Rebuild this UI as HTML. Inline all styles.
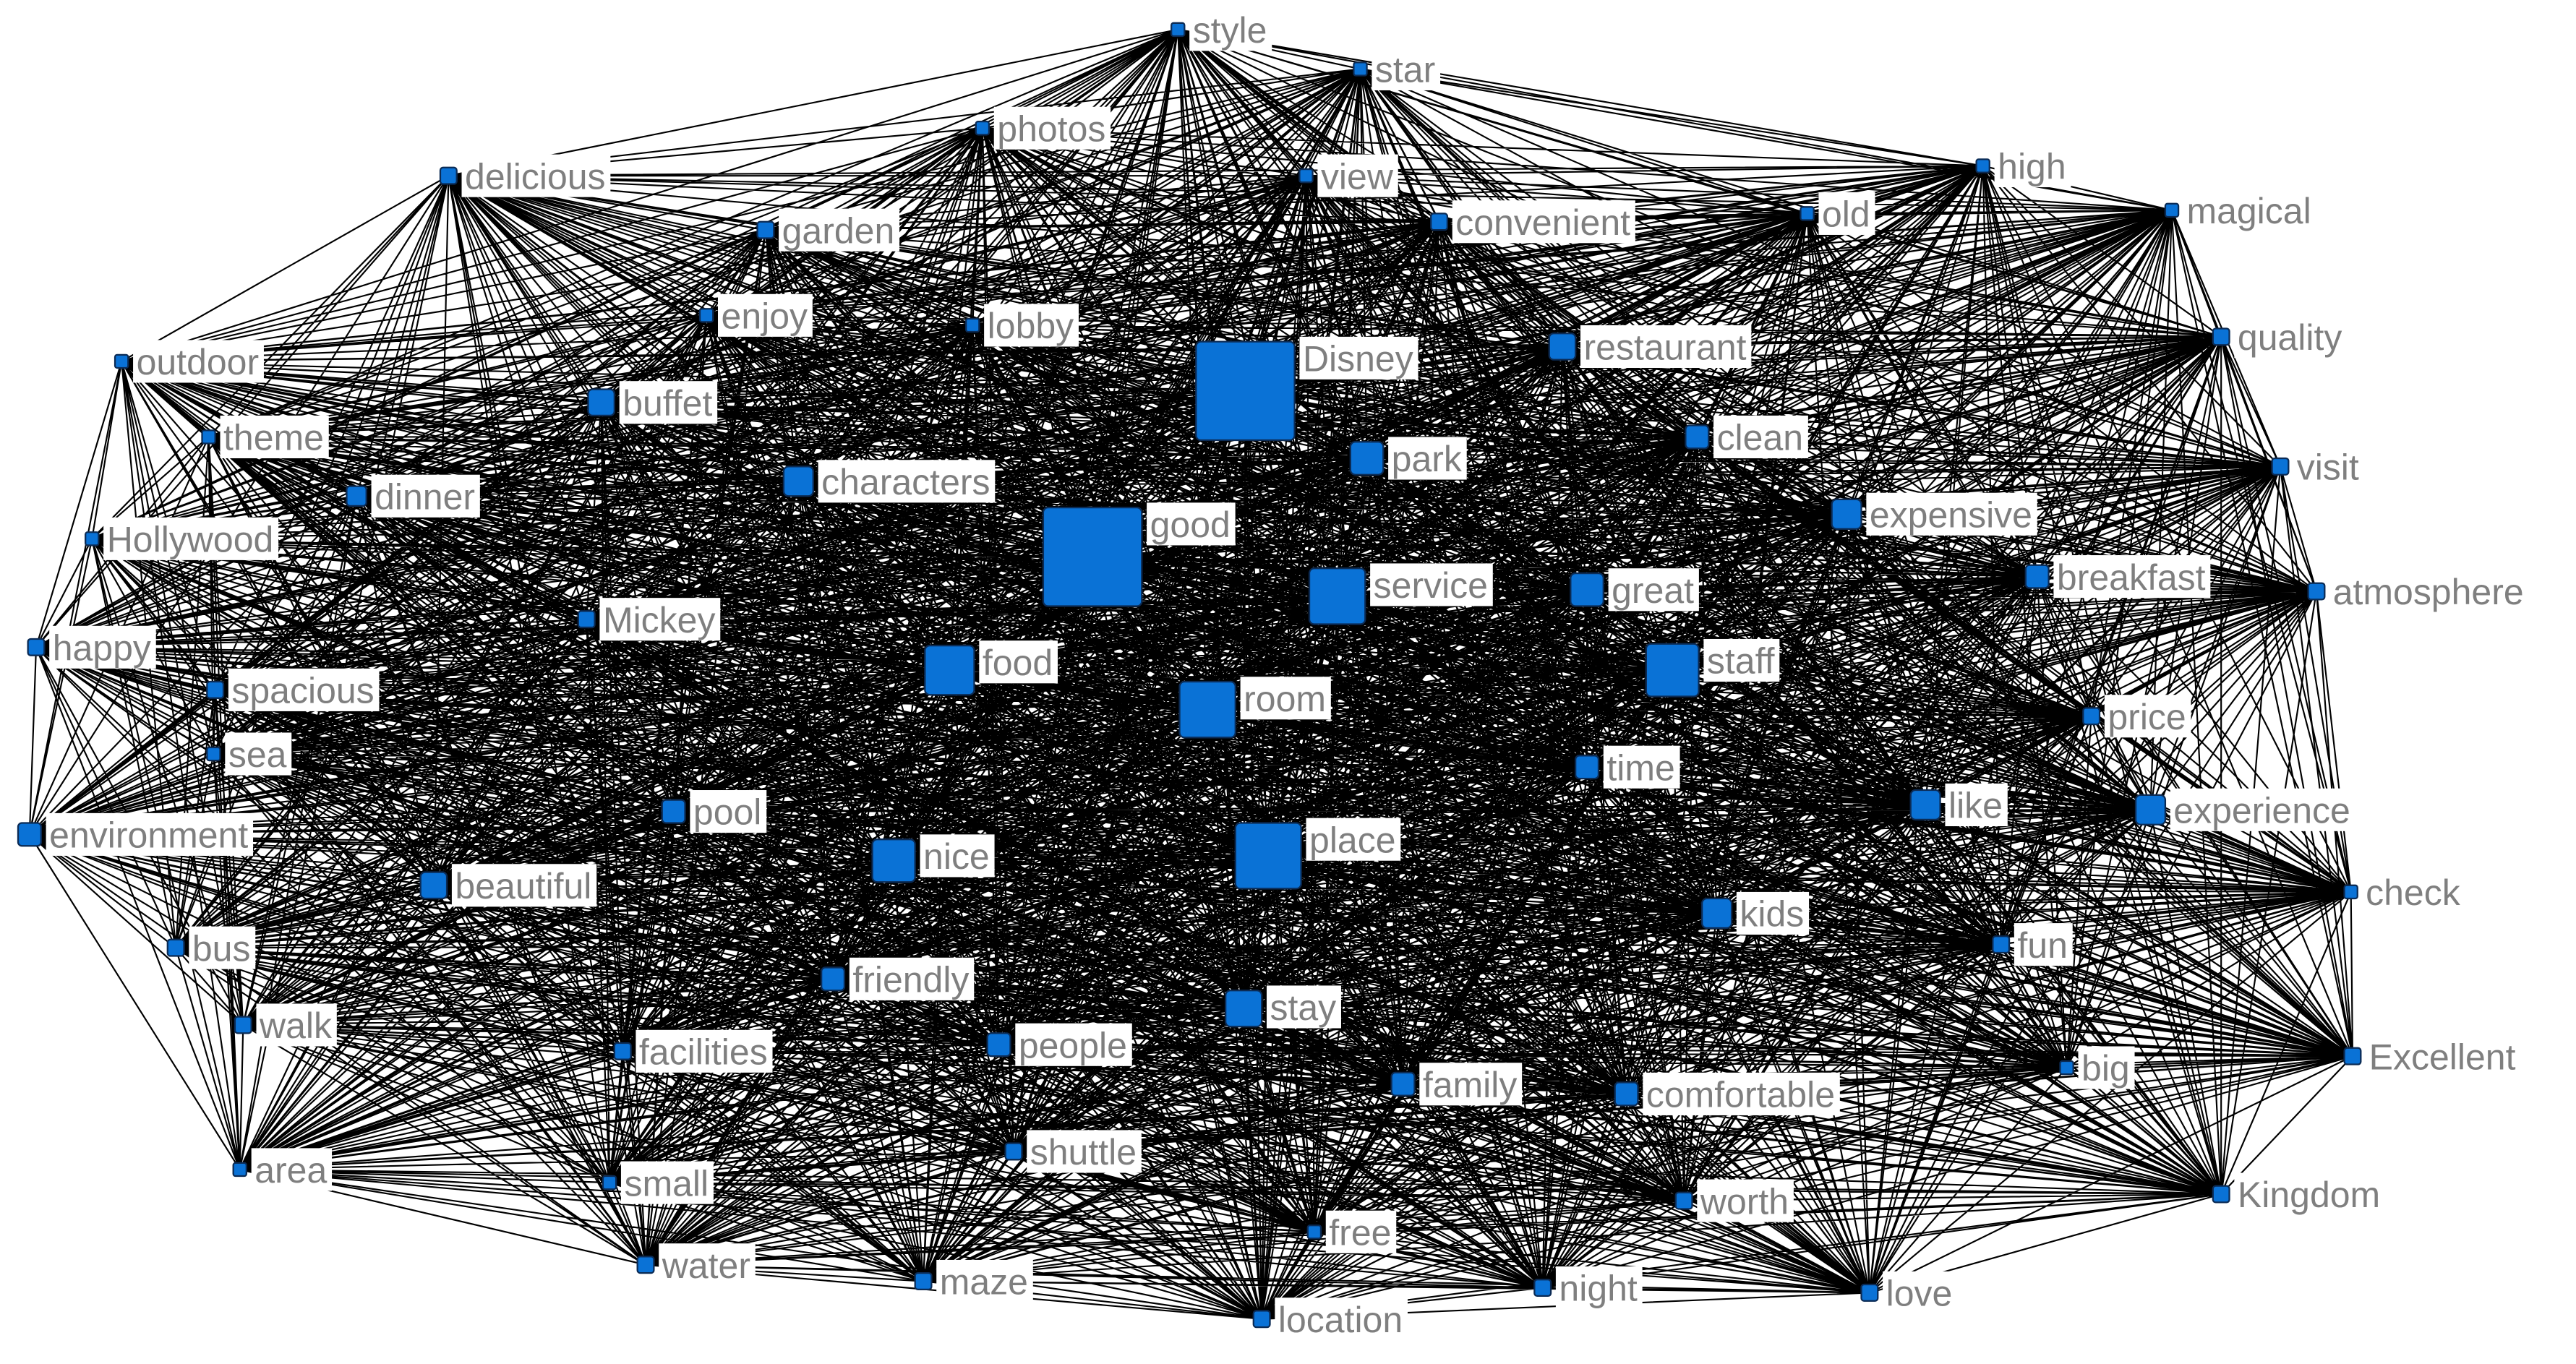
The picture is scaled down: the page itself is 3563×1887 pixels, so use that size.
<!DOCTYPE html>
<html><head><meta charset="utf-8">
<style>
html,body{margin:0;padding:0;background:#fff;}
svg{display:block;}
</style></head>
<body>
<svg id="g" xmlns="http://www.w3.org/2000/svg" width="3563" height="1887" viewBox="0 0 1568 830.4" preserveAspectRatio="none">
<rect width="1568" height="831" fill="#fff"/>
<g id="edges" stroke="#000" stroke-width="0.95" stroke-opacity="1"></g>
<g id="nodes"></g>
<g id="labels" font-family="Liberation Sans, DejaVu Sans, sans-serif" font-size="22" fill="#7f7f7f"></g>
</svg>
<script>
var N=[
["style",717,18,8],["star",828,42,8],["photos",598,78,8],["delicious",273,107,10],["view",795,107,8],
["high",1207,101,8],["magical",1322,128,8],["garden",466,140,10],["convenient",876,135,10],["old",1100,130,8],
["enjoy",430,192,8],["lobby",592,198,8],["Disney",758,238,60],["restaurant",951,211,16],["quality",1352,205,10],
["outdoor",74,220,8],["buffet",366,245,16],["theme",127,266,8],["park",832,279,20],["clean",1033,266,14],
["visit",1388,284,10],["dinner",217,302,12],["characters",486,293,18],["Hollywood",56,328,8],["good",665,339,60],
["expensive",1124,313,18],["breakfast",1240,351,14],["atmosphere",1410,360,10],["service",814,363,34],["great",966,359,20],
["happy",22,394,10],["Mickey",357,377,10],["food",578,408,30],["staff",1018,408,32],["spacious",131,420,10],
["room",735,432,34],["price",1273,436,10],["sea",130,459,8],["time",966,467,14],["environment",18,508,14],
["pool",410,494,14],["like",1172,490,18],["experience",1309,493,18],["nice",544,524,26],["place",772,521,40],
["beautiful",264,539,16],["check",1431,543,8],["kids",1045,556,18],["bus",107,577,10],["fun",1218,575,10],
["friendly",507,596,14],["stay",757,614,22],["walk",148,624,10],["facilities",379,640,10],["people",608,636,14],
["family",854,660,14],["comfortable",990,666,14],["Excellent",1432,643,10],["big",1258,650,8],["area",146,712,8],
["small",371,720,8],["shuttle",617,701,10],["worth",1025,731,10],["Kingdom",1352,727,10],["free",800,750,8],
["water",393,770,10],["maze",562,780,10],["night",939,784,10],["love",1138,787,10],["location",768,803,10]
];
var NS="http://www.w3.org/2000/svg";
var E=document.getElementById("edges"),ND=document.getElementById("nodes"),L=document.getElementById("labels");
var d="";
for(var i=0;i<N.length;i++)for(var j=i+1;j<N.length;j++){
 d+="M"+N[i][1]+" "+N[i][2]+"L"+N[j][1]+" "+N[j][2];
}
var p=document.createElementNS(NS,"path");p.setAttribute("d",d);p.setAttribute("fill","none");E.appendChild(p);
N.forEach(function(n){
 var s=n[3],r=document.createElementNS(NS,"rect");
 r.setAttribute("x",n[1]-s/2);r.setAttribute("y",n[2]-s/2);r.setAttribute("width",s);r.setAttribute("height",s);
 r.setAttribute("rx",Math.min(3,s/6));r.setAttribute("fill","#0a72d6");r.setAttribute("stroke","#0b2b55");r.setAttribute("stroke-width","1");
 ND.appendChild(r);
 var lx=n[1]+s/2+3, lc=n[2]-s/2+Math.min(s/2,10);
 var bg=document.createElementNS(NS,"rect");L.appendChild(bg);
 var t=document.createElementNS(NS,"text");t.setAttribute("x",lx+2);t.setAttribute("y",lc+8);t.textContent=n[0];L.appendChild(t);
 var w=t.getComputedTextLength();
 bg.setAttribute("x",lx);bg.setAttribute("y",lc-13);bg.setAttribute("width",w+5);bg.setAttribute("height",26);bg.setAttribute("fill","#fff");
});
</script>
</body></html>
